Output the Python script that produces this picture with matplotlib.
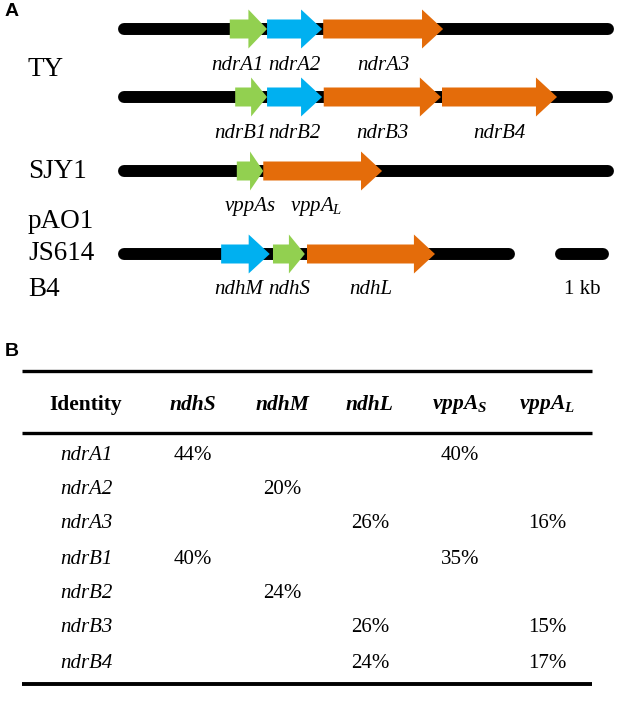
import matplotlib.pyplot as plt
from matplotlib.patches import Polygon

plt.rcParams['mathtext.fontset'] = 'custom'
plt.rcParams['mathtext.it'] = 'Liberation Serif:italic'
plt.rcParams['mathtext.rm'] = 'Liberation Serif'
plt.rcParams['mathtext.bf'] = 'Liberation Serif:bold:italic'

# gene maps, coordinates in kb from the start of each fragment
STRAINS = ['TY', 'TY', 'SJY1', 'pAO1\nJS614\nB4']
BACKBONE_KB = [9.19, 9.17, 9.19, 7.35]
GENES = [
    [('ndrA1', 'S', 2.07, 2.76), ('ndrA2', 'M', 2.76, 3.78), ('ndrA3', 'L', 3.80, 6.02)],
    [('ndrB1', 'S', 2.17, 2.76), ('ndrB2', 'M', 2.76, 3.78), ('ndrB3', 'L', 3.81, 5.98),
     ('ndrB4', 'L', 6.00, 8.13)],
    [('vppAs', 'S', 2.20, 2.69), (r'$\mathit{vppA}_{\mathit{L}}$', 'L', 2.69, 4.89)],
    [('ndhM', 'M', 1.91, 2.81), ('ndhS', 'S', 2.87, 3.46), ('ndhL', 'L', 3.50, 5.87)],
]
SCALE_KB = 1.0

# identity table
ID_COLS = ['ndhS', 'ndhM', 'ndhL', r'$\mathbf{vppA}_{\mathbf{S}}$', r'$\mathbf{vppA}_{\mathbf{L}}$']
ID_ROWS = ['ndrA1', 'ndrA2', 'ndrA3', 'ndrB1', 'ndrB2', 'ndrB3', 'ndrB4']
ID_VALUES = [
    [44, None, None, 40, None],
    [None, 20, None, None, None],
    [None, None, 26, None, 16],
    [40, None, None, 35, None],
    [None, 24, None, None, None],
    [None, None, 26, None, 15],
    [None, None, 24, None, 17],
]

COLORS = {'S': '#92D050', 'M': '#00B0F0', 'L': '#E46C0A'}
SERIF = 'Liberation Serif'
W, H = 620, 703
PX_PER_KB = 54.0
X0 = 118.0

fig = plt.figure(figsize=(W / 100, H / 100), dpi=100)

# panel A
top = 320
axd = fig.add_axes([0, 1 - top / H, 1, top / H])
axd.set_xlim(-X0 / PX_PER_KB, (W - X0) / PX_PER_KB)
axd.set_ylim(top, 0)
axd.axis('off')

track_y = [29, 97, 171, 254]
cap = 6 / PX_PER_KB
for y, length, genes in zip(track_y, BACKBONE_KB, GENES):
    axd.plot([cap, length - cap], [y, y], color='black', lw=8.6,
             solid_capstyle='round', zorder=1)
    for name, kind, s, e in genes:
        hl = min(0.39, 0.5 * (e - s))
        pts = [(s, y - 9.5), (e - hl, y - 9.5), (e - hl, y - 19.5), (e, y),
               (e - hl, y + 19.5), (e - hl, y + 9.5), (s, y + 9.5)]
        axd.add_patch(Polygon(pts, closed=True, facecolor=COLORS[kind],
                              edgecolor='none', zorder=2))

# gene labels, nudged where neighbours are crowded
nudge = {'ndrA1': -0.2, 'ndrB1': -0.2, 'ndhM': -0.13, r'$\mathit{vppA}_{\mathit{L}}$': -0.12}
for y, genes in zip(track_y, GENES):
    for name, kind, s, e in genes:
        xc = (s + e) / 2 + nudge.get(name, 0)
        axd.text(xc, y + 36, name, ha='center', va='center', fontsize=15,
                 family=SERIF, style='italic')

x_lab = -X0 / PX_PER_KB + 28 / PX_PER_KB
axd.text(x_lab, 70, 'TY', ha='left', va='center', fontsize=19.5, family=SERIF)
axd.text(x_lab, 171, 'SJY1', ha='left', va='center', fontsize=19.5, family=SERIF)
for lab, y in zip(STRAINS[3].split('\n'), [221, 254, 290]):
    axd.text(x_lab, y, lab, ha='left', va='center', fontsize=19.5, family=SERIF)

sb0 = 8.09
axd.plot([sb0 + cap, sb0 + SCALE_KB - cap], [254, 254], color='black', lw=8.6,
         solid_capstyle='round')
axd.text(sb0 + SCALE_KB / 2, 290, '%d kb' % SCALE_KB, ha='center', va='center',
         fontsize=15, family=SERIF)

# panel B
axt = fig.add_axes([0, 0, 1, 1 - top / H])
axt.set_xlim(0, W)
axt.set_ylim(H, top)
axt.axis('off')

fig.text(12 / W, 1 - 12 / H, 'A', ha='center', va='center', fontsize=14,
         fontweight='bold', family='Liberation Sans')
fig.text(12 / W, 1 - 352 / H, 'B', ha='center', va='center', fontsize=14,
         fontweight='bold', family='Liberation Sans')

x_l, x_r = 22, 592
axt.plot([x_l, x_r], [371, 371], color='black', lw=2.4, solid_capstyle='butt')
axt.plot([x_l, x_r], [433, 433], color='black', lw=2.4, solid_capstyle='butt')
axt.plot([x_l, x_r], [684, 684], color='black', lw=2.8, solid_capstyle='butt')

col_x = [193, 282, 370, 460, 547]
axt.text(86, 405, 'Identity', ha='center', va='center', fontsize=15.5,
         family=SERIF, fontweight='bold')
for x, c in zip(col_x, ID_COLS):
    axt.text(x, 405, c, ha='center', va='center', fontsize=15.5, family=SERIF,
             fontweight='bold', style='italic')

row_y = [455, 490, 524, 559, 593, 628, 663]
for y, r, vals in zip(row_y, ID_ROWS, ID_VALUES):
    axt.text(60, y, r, ha='left', va='center', fontsize=15, family=SERIF,
             style='italic')
    for x, v in zip(col_x, vals):
        if v is not None:
            axt.text(x, y, '%d%%' % v, ha='center', va='center', fontsize=15,
                     family=SERIF)

fig.savefig('out.png', dpi=100)
